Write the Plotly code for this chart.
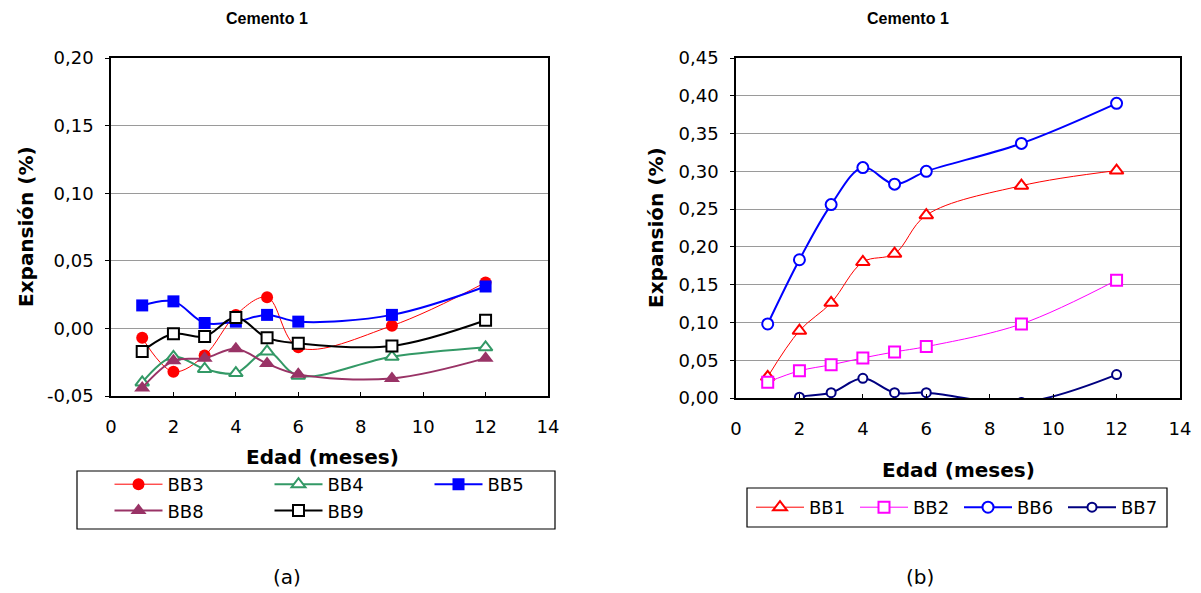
import plotly.graph_objects as go

# ---------------------------------------------------------------- data
months = [1, 2, 3, 4, 5, 6, 9, 12]

# panel (a): Cemento 1
bb3 = [-0.007, -0.032, -0.020, 0.010, 0.023, -0.014, 0.002, 0.034]
bb4 = [-0.040, -0.021, -0.030, -0.033, -0.017, -0.035, -0.021, -0.014]
bb5 = [0.017, 0.020, 0.004, 0.005, 0.010, 0.005, 0.010, 0.031]
bb8 = [-0.044, -0.024, -0.022, -0.015, -0.026, -0.034, -0.037, -0.022]
bb9 = [-0.017, -0.004, -0.006, 0.008, -0.007, -0.011, -0.013, 0.006]

# panel (b): Cemento 1
bb1 = [0.028, 0.089, 0.126, 0.180, 0.191, 0.242, 0.281, 0.301]
bb2 = [0.021, 0.036, 0.044, 0.053, 0.061, 0.068, 0.098, 0.156]
bb6 = [0.098, 0.183, 0.256, 0.305, 0.283, 0.300, 0.337, 0.390]
bb7 = [-0.020, 0.001, 0.007, 0.026, 0.007, 0.007, -0.006, 0.031]

x_ticks = [0, 2, 4, 6, 8, 10, 12, 14]
x_ticktext = ["0", "2", "4", "6", "8", "10", "12", "14"]
ya_ticks = [-0.05, 0.0, 0.05, 0.10, 0.15, 0.20]
ya_ticktext = ["-0,05", "0,00", "0,05", "0,10", "0,15", "0,20"]
yb_ticks = [0.0, 0.05, 0.10, 0.15, 0.20, 0.25, 0.30, 0.35, 0.40, 0.45]
yb_ticktext = ["0,00", "0,05", "0,10", "0,15", "0,20", "0,25", "0,30",
               "0,35", "0,40", "0,45"]

# ---------------------------------------------------------------- layout helpers
W, H = 1201, 593
ML = 110                    # left margin; the (a) legend starts inside it so it wraps
PW = W - ML


def px(x):
    return (x - ML) / PW


def py(y):
    return 1 - y / H


FONT = "DejaVu Sans, Liberation Sans, sans-serif"
TITLE_FONT = "Liberation Sans, Arial, sans-serif"
TICK = dict(family=FONT, size=18, color="black")

fig = go.Figure()


def add(x, y, name, color, symbol, size, lw, fill, xa, ya, legend):
    fig.add_trace(go.Scatter(
        x=x, y=y, name=name, mode="lines+markers",
        line=dict(color=color, width=lw, shape="spline", smoothing=1.0),
        marker=dict(symbol=symbol, size=size, color=fill,
                    line=dict(color=color, width=2 if fill == "white" else 0)),
        xaxis=xa, yaxis=ya, legend=legend,
    ))


# panel (a)
add(months, bb3, "BB3", "#FF0000", "circle", 12, 1, "#FF0000", "x", "y", "legend")
add(months, bb4, "BB4", "#339966", "triangle-up", 12, 2, "white", "x", "y", "legend")
add(months, bb5, "BB5", "#0000FF", "square", 12, 2, "#0000FF", "x", "y", "legend")
add(months, bb8, "BB8", "#993366", "triangle-up", 14, 2, "#993366", "x", "y", "legend")
add(months, bb9, "BB9", "#000000", "square", 11, 2, "white", "x", "y", "legend")

# panel (b)
add(months, bb1, "BB1", "#FF0000", "triangle-up", 12, 1, "white", "x2", "y2", "legend2")
add(months, bb2, "BB2", "#FF00FF", "square", 11, 1, "white", "x2", "y2", "legend2")
add(months, bb6, "BB6", "#0000FF", "circle", 11, 2, "white", "x2", "y2", "legend2")
add(months, bb7, "BB7", "#000080", "circle", 9, 2, "white", "x2", "y2", "legend2")

xcommon = dict(range=[0, 14], tickvals=x_ticks, ticktext=x_ticktext,
               ticks="inside", ticklen=4, tickcolor="black",
               showline=True, linecolor="black", linewidth=1.5, mirror=True,
               showgrid=False, zeroline=False, tickfont=TICK,
               ticklabelstandoff=14, fixedrange=True)
ycommon = dict(ticks="outside", ticklen=4, tickcolor="black",
               showline=True, linecolor="black", linewidth=1.5, mirror=True,
               showgrid=True, gridcolor="#9a9a9a", gridwidth=1,
               zeroline=False, tickfont=TICK, ticklabelstandoff=8,
               fixedrange=True)

fig.update_layout(
    width=W, height=H,
    margin=dict(l=ML, r=0, t=0, b=0, autoexpand=False),
    paper_bgcolor="white", plot_bgcolor="white",
    font=dict(family=FONT, color="black"),
    xaxis=dict(domain=[px(111), px(548)], anchor="y", **xcommon),
    yaxis=dict(domain=[py(396), py(58)], anchor="x", range=[-0.05, 0.20],
               tickvals=ya_ticks, ticktext=ya_ticktext, **ycommon),
    xaxis2=dict(domain=[px(736), px(1180)], anchor="y2", **xcommon),
    yaxis2=dict(domain=[py(398), py(58)], anchor="x2", range=[0, 0.45],
                tickvals=yb_ticks, ticktext=yb_ticktext, **ycommon),
    legend=dict(orientation="h", x=px(109.5), y=py(466), xanchor="left",
                yanchor="top", entrywidth=97, itemwidth=48,
                font=dict(family=FONT, size=18), borderwidth=0,
                bgcolor="rgba(0,0,0,0)", tracegroupgap=0),
    legend2=dict(orientation="h", x=px(751), y=py(489), xanchor="left",
                 yanchor="top", entrywidth=41, itemwidth=48,
                 font=dict(family=FONT, size=18), borderwidth=0,
                 bgcolor="rgba(0,0,0,0)"),
    showlegend=True,
)

# legend frames
fig.add_shape(type="rect", xref="paper", yref="paper",
              x0=px(77), x1=px(555), y0=py(529), y1=py(471),
              line=dict(color="black", width=1.2), fillcolor="rgba(0,0,0,0)")
fig.add_shape(type="rect", xref="paper", yref="paper",
              x0=px(747), x1=px(1167), y0=py(527), y1=py(488),
              line=dict(color="black", width=1.2), fillcolor="rgba(0,0,0,0)")

# titles and captions
ann = []


def label(cx, cy, text, size, angle=0, bold=False, family=FONT):
    ann.append(dict(x=px(cx), y=py(cy), text=f"<b>{text}</b>" if bold else text,
                    showarrow=False, xref="paper", yref="paper",
                    xanchor="center", yanchor="middle", textangle=angle,
                    font=dict(size=size, family=family)))


label(267, 19, "Cemento 1", 16, bold=True, family=TITLE_FONT)
label(908, 19, "Cemento 1", 16, bold=True, family=TITLE_FONT)
label(322, 457, "Edad (meses)", 20, bold=True)
label(958, 470, "Edad (meses)", 20, bold=True)
label(26, 227, "Expansión (%)", 20, angle=-90, bold=True)
label(656, 228, "Expansión (%)", 20, angle=-90, bold=True)
label(287, 577, "(a)", 20)
label(920, 577, "(b)", 20)
fig.update_layout(annotations=ann)

fig.write_html("out.html")
